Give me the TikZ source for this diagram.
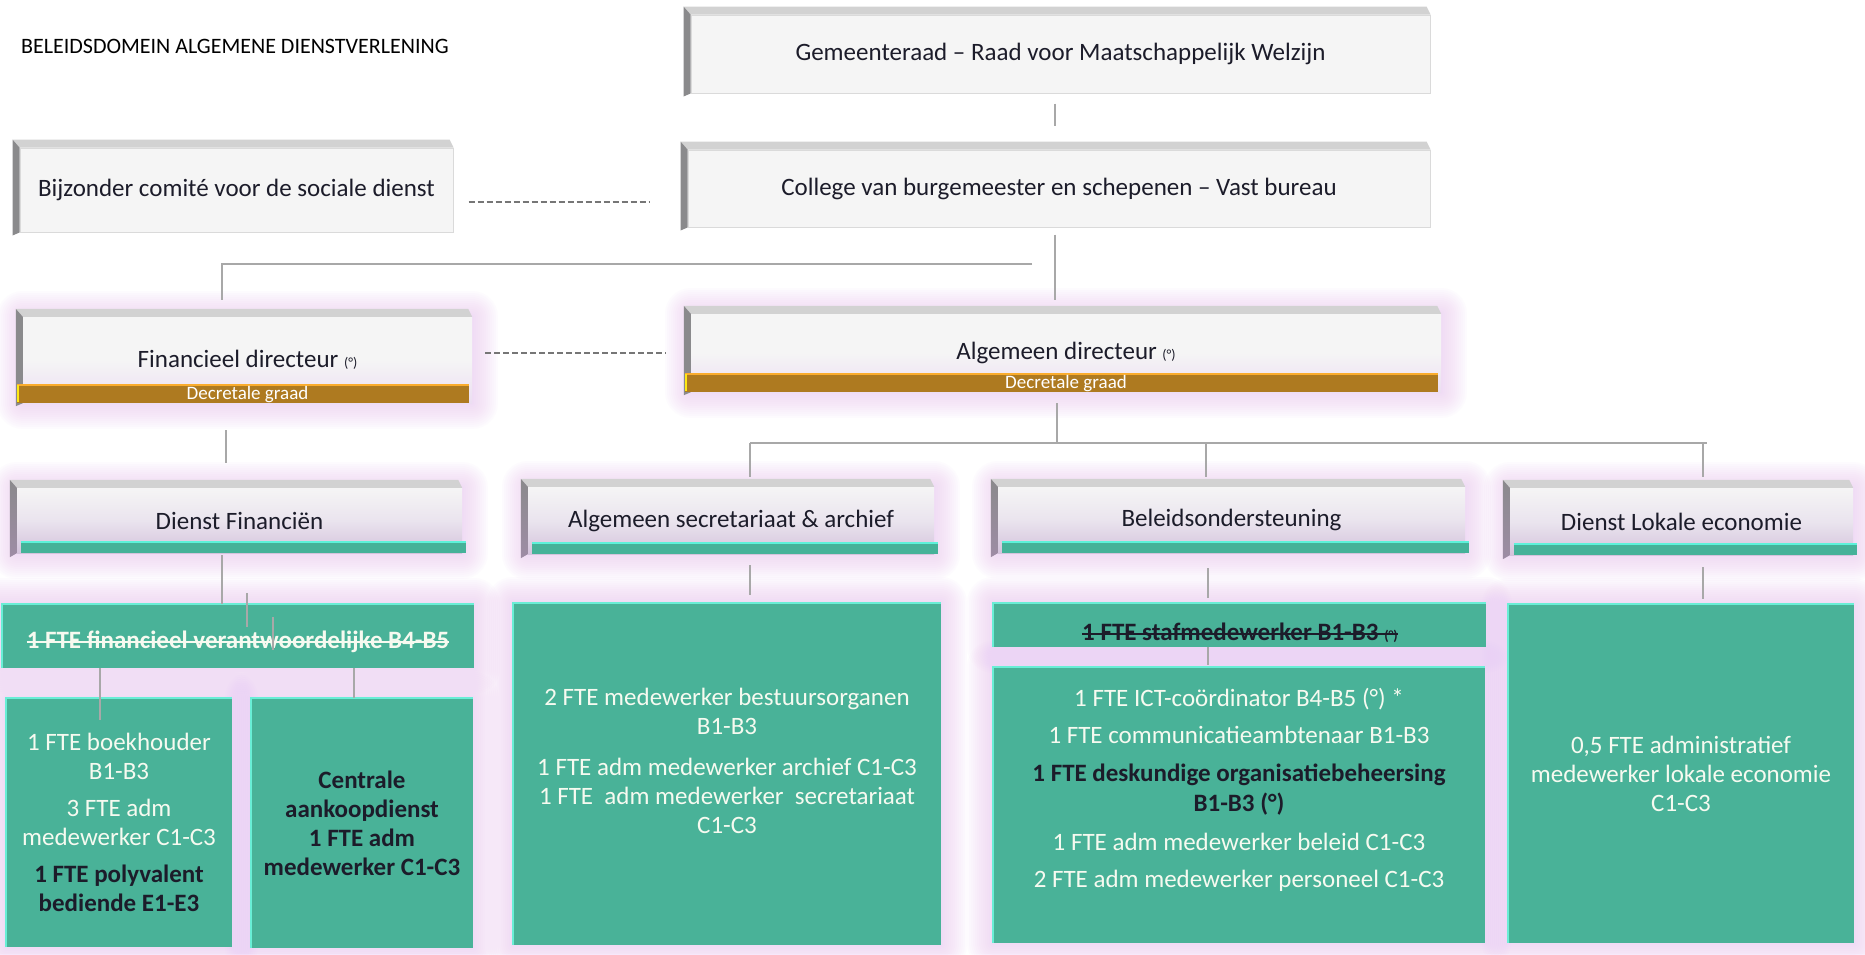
\documentclass[tikz,border=0pt]{standalone}
\usepackage{fontspec}
\setmainfont{Carlito}
\usetikzlibrary{backgrounds}

\definecolor{groen}{RGB}{73,178,152}
\definecolor{groenrand}{RGB}{105,238,214}
\definecolor{band}{RGB}{69,178,153}
\definecolor{bandrand}{RGB}{92,242,218}
\definecolor{bruin}{RGB}{174,122,32}
\definecolor{bruinrand}{RGB}{250,172,45}
\definecolor{geel}{RGB}{255,232,20}
\definecolor{vlak}{RGB}{245,245,245}
\definecolor{vlakmid}{RGB}{234,228,238}
\definecolor{lila}{RGB}{212,195,220}
\definecolor{lilalicht}{RGB}{236,222,242}
\definecolor{rand}{RGB}{218,218,218}
\definecolor{kantboven}{RGB}{210,210,210}
\definecolor{kantlinks}{RGB}{138,138,140}
\definecolor{kantlila}{RGB}{158,140,165}
\definecolor{gloedkleur}{RGB}{234,196,245}
\definecolor{lijngrijs}{RGB}{168,168,168}
\definecolor{stipgrijs}{RGB}{118,118,118}
\definecolor{inkt}{RGB}{28,28,42}
\definecolor{room}{RGB}{246,250,240}

\newcommand{\klein}[1]{{\fontsize{14}{14}\selectfont #1}}
\newcommand{\zwart}[1]{\textcolor{inkt}{\bfseries #1}}

\begin{document}
\begin{tikzpicture}[x=1pt,y=-1pt,
  kop/.style={inner sep=0pt,align=center,text=inkt,font=\fontsize{25}{29}\selectfont},
  bestuur/.style={kop,fill=vlak,draw=rand,line width=1pt},
  directeur/.style={kop,top color=vlak,bottom color=lilalicht,middle color=vlak},
  dienst/.style={kop,top color=vlak,bottom color=lila,middle color=vlakmid},
  blok/.style={fill=groen,inner sep=0pt,align=center,text=room,font=\fontsize{25}{29}\selectfont},
  schrap/.style={inner sep=0pt,text=room,font=\fontsize{25}{29}\selectfont\bfseries},
  titel/.style={inner sep=0pt,text=black,font=\fontsize{22}{22}\selectfont},
  graad/.style={inner sep=0pt,text=white,font=\fontsize{19}{19}\selectfont},
  lijn/.style={draw=lijngrijs,line width=1.2pt},
  stippel/.style={draw=stipgrijs,line width=1.2pt,dash pattern=on 6pt off 3pt},
  gloed/.style={draw=gloedkleur,line join=round}]
\useasboundingbox (0,0) rectangle (1865,954);

\node[titel,anchor=west] (titel) at (21,46) {BELEIDSDOMEIN ALGEMENE DIENSTVERLENING};

% bestuursorganen
\node[bestuur,minimum width=739pt,minimum height=78pt] (gem) at (1060.5,54) {Gemeenteraad – Raad voor Maatschappelijk Welzijn};
\node[bestuur,minimum width=742pt,minimum height=77pt] (col) at (1059,188.5) {College van burgemeester en schepenen – Vast bureau};
\node[bestuur,minimum width=433pt,minimum height=84pt] (bij) at (236.5,190) {Bijzonder comité voor de sociale dienst};

% directeurs
\node[directeur,minimum width=449pt,minimum height=86pt] (findir) at (247.5,360) {Financieel directeur \klein{(°)}};
\node[directeur,minimum width=750pt,minimum height=78pt] (algdir) at (1066,353) {Algemeen directeur \klein{(°)}};

% diensten
\node[dienst,minimum width=445pt,minimum height=65pt] (dfin) at (239.5,520.5) {Dienst Financiën};
\node[dienst,minimum width=406pt,minimum height=67pt] (dsec) at (731,520.5) {Algemeen secretariaat \& archief};
\node[dienst,minimum width=467pt,minimum height=66pt] (dbel) at (1231.5,520) {Beleidsondersteuning};
\node[dienst,minimum width=343pt,minimum height=67pt] (dlok) at (1681.5,521.5) {Dienst Lokale economie};

% personeel
\node[blok,minimum width=472pt,minimum height=64pt] (finv) at (238,636) {};
\node[schrap,anchor=base] (finvtekst) at (238,648) {1 FTE financieel verantwoordelijke B4-B5};
\node[blok,minimum width=226pt,minimum height=249pt] (boek) at (119,822.5) {1 FTE boekhouder\\B1-B3\\[8pt]3 FTE adm\\medewerker C1-C3\\[8pt]\zwart{1 FTE polyvalent}\\\zwart{bediende E1-E3}};
\node[blok,minimum width=222pt,minimum height=250pt] (cent) at (362,823) {\zwart{Centrale}\\\zwart{aankoopdienst}\\\zwart{1 FTE adm}\\\zwart{medewerker C1-C3}};
\node[blok,minimum width=428pt,minimum height=342pt] (sec) at (727,774) {};
\node[blok,fill=none] (sectekst) at (727,761) {2 FTE medewerker bestuursorganen\\B1-B3\\[12pt]1 FTE adm medewerker archief C1-C3\\1 FTE~ adm medewerker~ secretariaat\\C1-C3};
\node[blok,minimum width=493pt,minimum height=44pt] (staf) at (1239.5,625) {};
\node[schrap,text=inkt,anchor=base] (staftekst) at (1240,640) {1 FTE stafmedewerker B1-B3 \klein{(°)}};
\node[blok,minimum width=492pt,minimum height=276pt] (bel) at (1239,805) {};
\node[blok,fill=none,font=\fontsize{25}{30}\selectfont] (beltekst) at (1239,790) {1 FTE ICT-coördinator B4-B5 (°) *\\[7pt]1 FTE communicatieambtenaar B1-B3\\[8pt]\zwart{1 FTE deskundige organisatiebeheersing}\\\zwart{B1-B3 (°)}\\[9pt]1 FTE adm medewerker beleid C1-C3\\[7pt]2 FTE adm medewerker personeel C1-C3};
\node[blok,minimum width=346pt,minimum height=339pt] (lok) at (1681,773.5) {0,5 FTE administratief\\medewerker lokale economie\\C1-C3};

% doorhalingen
\draw[room,line width=1.6pt] ([yshift=6pt]finvtekst.base west) -- ([yshift=6pt]finvtekst.base east);
\draw[inkt,line width=1.6pt] ([yshift=6pt]staftekst.base west) -- ([yshift=6pt]staftekst.base east);

% kanten van de kaders
\foreach \n in {gem,col,bij,findir,algdir} {
  \fill[kantboven] (\n.north west) -- ++(-7,-8) -- ([xshift=-4pt,yshift=8pt]\n.north east) -- (\n.north east) -- cycle;
  \fill[kantlinks] (\n.north west) -- ++(-7,-8) -- ([xshift=-7pt,yshift=-3pt]\n.south west) -- (\n.south west) -- cycle;
}
\foreach \n in {dfin,dsec,dbel,dlok} {
  \fill[kantboven] (\n.north west) -- ++(-7,-8) -- ([xshift=-4pt,yshift=8pt]\n.north east) -- (\n.north east) -- cycle;
  \shade[top color=kantlinks,bottom color=kantlila] (\n.north west) -- ++(-7,-8) -- ([xshift=-7pt,yshift=-4pt]\n.south west) -- (\n.south west) -- cycle;
  \fill[band] ([xshift=4pt,yshift=12pt]\n.south west) rectangle ([xshift=4pt]\n.south east);
  \draw[bandrand,line width=2pt] ([xshift=4pt,yshift=11pt]\n.south west) -- ([xshift=4pt,yshift=11pt]\n.south east);
}
\foreach \n in {findir,algdir} {
  \fill[bruin] ([xshift=-6pt,yshift=19pt]\n.south west) rectangle ([xshift=-3pt]\n.south east);
  \draw[bruinrand,line width=2pt] ([xshift=-6pt,yshift=18pt]\n.south west) -- ([xshift=-3pt,yshift=18pt]\n.south east);
  \draw[geel,line width=2pt] ([xshift=-5pt,yshift=18pt]\n.south west) -- ([xshift=-5pt,yshift=1pt]\n.south west);
  \node[graad] (\n-graad) at ([yshift=9pt]\n.south) {Decretale graad};
}
\foreach \n in {finv,boek,cent,sec,staf,bel,lok}
  \draw[groenrand,line width=1.5pt] (\n.south west) -- (\n.north west) -- (\n.north east);

% gloed
\begin{scope}[on background layer]
\fill[white] (0,0) rectangle (1865,954);
\foreach \n in {findir,algdir,dfin,dsec,dbel,dlok,finv,boek,cent,sec,staf,bel,lok}
  \foreach \w in {4,8,...,52}
    \draw[gloed,line width=\w pt,opacity=.055] (\n.north west) rectangle (\n.south east);
\end{scope}

% verbindingen
\coordinate (as) at (1055,0);
\coordinate (as2) at (1057,0);
\coordinate (k1) at (1032,264);
\coordinate (fl) at (222,0);
\coordinate (fs) at (226,0);
\coordinate (k2) at (750,443);
\coordinate (k3) at (1707,443);
\coordinate (k4) at (1206,443);
\coordinate (k5) at (1703,443);
\coordinate (b1) at (100,0);
\coordinate (c1) at (354,0);
\coordinate (s1) at (750,0);
\coordinate (s2) at (1208,0);
\coordinate (r1) at (247,593);
\coordinate (r2) at (273,617);

\draw[lijn,shorten <=10pt,shorten >=24pt] (gem.south -| as) -- (col.north -| as);
\draw[lijn,shorten <=7pt,shorten >=14pt] (col.south -| as) -- (algdir.north -| as);
\draw[lijn,shorten >=17pt] (k1) -| (findir.north -| fl);
\draw[stippel,shorten <=15pt,shorten >=38pt] ([yshift=-12pt]bij.east) -- ([yshift=-12pt]bij.east -| col.west);
\draw[stippel,shorten <=13pt,shorten >=25pt] ([yshift=7pt]findir.east) -- ([yshift=7pt]findir.east -| algdir.west);
\draw[lijn,shorten <=27pt,shorten >=25pt] (findir.south -| fs) -- (dfin.north -| fs);
\draw[lijn,shorten <=11pt] (algdir.south -| as2) -- (as2 |- k2);
\draw[lijn] (k2) -- (k3);
\draw[lijn,shorten >=10pt] (k2) -- (k2 |- dsec.north);
\draw[lijn,shorten >=10pt] (k4) -- (k4 |- dbel.north);
\draw[lijn,shorten >=11pt] (k5) -- (k5 |- dlok.north);
\draw[lijn,shorten <=2pt] (dfin.south -| fl) -- (finv.north -| fl);
\draw[lijn] (r1) -- ++(0,34);
\draw[lijn] (r2) -- ++(0,33);
\draw[lijn] (finv.south -| b1) -- ++(0,52);
\draw[lijn] (finv.south -| c1) -- (cent.north -| c1);
\draw[lijn,shorten <=11pt,shorten >=8pt] (dsec.south -| s1) -- (sec.north -| s1);
\draw[lijn,shorten <=15pt,shorten >=5pt] (dbel.south -| s2) -- (staf.north -| s2);
\draw[lijn,shorten >=2pt] (staf.south -| s2) -- (bel.north -| s2);
\draw[lijn,shorten <=12pt,shorten >=5pt] (dlok.south -| k5) -- (lok.north -| k5);
\end{tikzpicture}
\end{document}
